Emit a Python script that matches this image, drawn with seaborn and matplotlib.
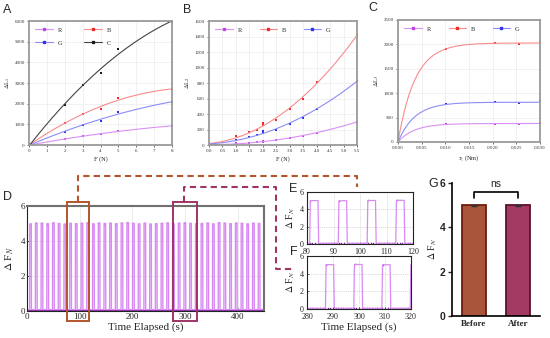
import numpy as np
import pandas as pd
import matplotlib
matplotlib.use("Agg")
import matplotlib.pyplot as plt
import seaborn as sns
from matplotlib.patches import Rectangle
from matplotlib.lines import Line2D

sns.set_theme(style="white")
plt.rcParams['font.family'] = ['Liberation Serif', 'DejaVu Serif']
plt.rcParams['mathtext.fontset'] = 'stix'

# ---------------- data ----------------
a_force = [0, 2, 3, 4, 5, 8]
a_R = [0, 280, 420, 520, 700, 920]
a_B = [0, 1060, 1520, 1740, 2270, 2700]
a_G = [0, 640, 980, 1180, 1580, 2080]
a_C = [0, 1920, 2900, 3480, 4640, 5960]

b_force = [0, 1.0, 1.5, 1.8, 2.0, 2.0, 2.5, 3.0, 3.5, 4.0, 5.5]
b_R = [0, 20, 30, 35, 50, 45, 60, 85, 120, 160, 300]
b_B = [0, 110, 170, 200, 280, 260, 320, 460, 600, 810, 1420]
b_G = [0, 65, 100, 130, 180, 150, 200, 270, 345, 470, 830]

c_torque = [0, 0.0102, 0.0205, 0.0255, 0.0300]
c_R = [0, 360, 375, 375, 385]
c_B = [0, 1910, 2030, 2010, 2040]
c_G = [0, 770, 810, 800, 830]

d_onsets = [5.0, 15.9, 26.7, 37.6, 48.4, 59.3, 70.1, 81.0, 91.8, 102.7, 113.5,
            124.4, 135.2, 146.1, 156.9, 167.8, 178.6, 189.5, 200.3, 211.2, 222.0,
            232.9, 243.7, 254.6, 265.4, 276.3, 287.1, 298.0, 308.8, 319.7, 330.5,
            341.4, 352.2, 363.1, 373.9, 384.8, 395.6, 406.5, 417.3, 428.2, 439.0]
d_heights = [4.98, 5.03, 5.02, 4.99, 5.04, 5.00, 4.97, 5.01, 4.99, 5.02, 5.04,
             4.98, 5.03, 5.00, 5.02, 4.99, 5.03, 5.05, 5.01, 4.98, 5.02, 4.97,
             4.99, 5.01, 5.03, 4.98, 5.02, 5.04, 5.01, 4.99, 5.00, 5.03, 4.98,
             5.05, 5.02, 4.99, 5.03, 5.01, 4.98, 5.02, 5.00]
d_width = 3.4
d_base = 0.08
d_end = 450

g_groups = ["Before", "After"]
g_means = [4.99, 4.99]
g_err = [0.03, 0.03]

W, H = 550, 338
fig = plt.figure(figsize=(5.5, 3.38), dpi=100)


def add_ax(l, r, t, b):
    return fig.add_axes([l / W, 1 - b / H, (r - l) / W, (b - t) / H])


col = {'R': '#c040e8', 'B': '#f02828', 'G': '#3030f0', 'C': '#1a1a1a'}
fitcol = {'R': '#d890f4', 'B': '#f88c8c', 'G': '#8c8cf8', 'C': '#444444'}


def style_top(ax):
    for s in ax.spines.values():
        s.set_color('#9a9a9a')
        s.set_linewidth(1.3)
    ax.tick_params(axis='both', which='both', length=1.5, width=0.5,
                   labelsize=3.6, pad=1.5, colors='#333333', direction='out',
                   bottom=True, left=True)
    ax.grid(True, color='#ececec', lw=0.5)
    ax.set_axisbelow(True)


def legend_handles(keys):
    return [Line2D([0], [0], color=fitcol[k], lw=0.8, marker='s', markersize=1.8,
                   markerfacecolor=col[k], markeredgecolor=col[k], label=k) for k in keys]


# ---------------- A ----------------
axA = add_ax(29, 172, 21, 145)
xx = np.linspace(0, 8, 200)
for k, ys in [('R', a_R), ('B', a_B), ('G', a_G), ('C', a_C)]:
    p = np.polyfit(a_force, ys, 2)
    sns.lineplot(x=xx, y=np.polyval(p, xx), ax=axA, color=fitcol[k], lw=0.8, legend=False)
    sns.scatterplot(x=a_force, y=ys, ax=axA, color=col[k], marker='s', s=4, linewidth=0, legend=False)
axA.set_xlim(0, 8)
axA.set_ylim(0, 6000)
axA.set_xticks(range(0, 9))
axA.set_yticks(range(0, 6001, 1000))
style_top(axA)
axA.set_xlabel('F (N)', fontsize=4.5, labelpad=2)
axA.set_ylabel(r'$\Delta$L$_1$', fontsize=4.5, labelpad=2)
axA.legend(handles=legend_handles(['R', 'G', 'B', 'C']), ncol=2, loc='upper left',
           frameon=False, fontsize=4.5, handlelength=2.8, columnspacing=3.5,
           labelspacing=1.2, borderaxespad=0.6, bbox_to_anchor=(0.0, 1.0))

# ---------------- B ----------------
axB = add_ax(209, 357, 21, 145)
xx = np.linspace(0, 5.5, 200)
for k, ys in [('R', b_R), ('B', b_B), ('G', b_G)]:
    p = np.polyfit(b_force, ys, 2)
    sns.lineplot(x=xx, y=np.polyval(p, xx), ax=axB, color=fitcol[k], lw=0.8, legend=False)
    sns.scatterplot(x=b_force, y=ys, ax=axB, color=col[k], marker='s', s=4, linewidth=0, legend=False)
axB.set_xlim(0, 5.5)
axB.set_ylim(0, 1600)
axB.set_xticks(np.arange(0, 5.51, 0.5))
axB.set_xticklabels([f'{v:.1f}' for v in np.arange(0, 5.51, 0.5)])
axB.set_yticks(range(0, 1601, 200))
style_top(axB)
axB.set_xlabel('F (N)', fontsize=4.5, labelpad=2)
axB.set_ylabel(r'$\Delta$L$_2$', fontsize=4.5, labelpad=2)
axB.legend(handles=legend_handles(['R', 'B', 'G']), ncol=3, loc='upper left',
           frameon=False, fontsize=4.5, handlelength=2.8, columnspacing=2.8,
           borderaxespad=0.6)

# ---------------- C ----------------
axC = add_ax(398, 540, 20, 142)
xx = np.linspace(0, 0.03, 300)
taus = np.linspace(0.0005, 0.01, 400)
cx = np.array(c_torque)
for k, ys in [('R', c_R), ('B', c_B), ('G', c_G)]:
    ys = np.array(ys, dtype=float)
    best = None
    for tau in taus:
        f = 1 - np.exp(-cx / tau)
        a = (f @ ys) / (f @ f)
        err = np.sum((a * f - ys) ** 2)
        if best is None or err < best[0]:
            best = (err, a, tau)
    _, a, tau = best
    sns.lineplot(x=xx, y=a * (1 - np.exp(-xx / tau)), ax=axC, color=fitcol[k], lw=0.8, legend=False)
    sns.scatterplot(x=c_torque, y=ys, ax=axC, color=col[k], marker='s', s=4, linewidth=0, legend=False)
axC.set_xlim(0, 0.03)
axC.set_ylim(0, 2500)
axC.set_xticks(np.arange(0, 0.0301, 0.005))
axC.set_xticklabels([f'{v:.3f}' for v in np.arange(0, 0.0301, 0.005)])
axC.set_yticks(range(0, 2501, 500))
style_top(axC)
axC.set_xlabel(r'$\tau_z$ (Nm)', fontsize=4.5, labelpad=2)
axC.set_ylabel(r'$\Delta$L$_3$', fontsize=4.5, labelpad=2)
axC.legend(handles=legend_handles(['R', 'B', 'G']), ncol=3, loc='upper left',
           frameon=False, fontsize=4.5, handlelength=2.8, columnspacing=2.8,
           borderaxespad=0.6)

# ---------------- pulse series ----------------
ts, vs = [0.0], [d_base]
for t0, h in zip(d_onsets, d_heights):
    ts += [t0, t0 + 0.25, t0 + d_width - 0.25, t0 + d_width]
    vs += [d_base, h, h, d_base]
ts.append(d_end)
vs.append(d_base)
pulse = pd.DataFrame({'t': ts, 'v': vs})
base_t = np.arange(0, d_end + 0.1, 1.0)
base_df = pd.DataFrame({'t': base_t, 'v': np.full_like(base_t, d_base)})
top_df = pd.DataFrame({'t': [t + 0.3 for t in d_onsets], 'v': d_heights})

line_c = '#d88af2'
mark_c = '#7a1f9a'


def draw_pulse(ax, ms, lw):
    sns.lineplot(data=pulse, x='t', y='v', ax=ax, estimator=None, sort=False,
                 color=line_c, lw=lw, legend=False)
    sns.scatterplot(data=base_df, x='t', y='v', ax=ax, color=mark_c, s=ms, linewidth=0, legend=False)
    sns.scatterplot(data=top_df, x='t', y='v', ax=ax, color=mark_c, s=ms, linewidth=0, legend=False)


# ---------------- D ----------------
axD = add_ax(27, 264, 206, 311)
draw_pulse(axD, 0.8, 1.0)
axD.set_xlim(0, 450)
axD.set_ylim(0, 6)
axD.set_xticks([0, 100, 200, 300, 400])
axD.set_yticks([0, 2, 4, 6])
axD.grid(True, color='#e4e4e4', lw=0.5)
for s in ['top', 'right']:
    axD.spines[s].set_color('#707070')
    axD.spines[s].set_linewidth(1.5)
for s in ['left', 'bottom']:
    axD.spines[s].set_color('#222222')
    axD.spines[s].set_linewidth(0.8)
axD.tick_params(labelsize=6.5, length=2, width=0.6, pad=1.5, direction='in',
                bottom=True, left=True)
axD.set_xlabel('Time Elapsed (s)', fontsize=8, labelpad=1)
axD.set_ylabel(r'$\Delta$ F$_N$', fontsize=8, labelpad=3)

brown = '#b4552e'
plum = '#9e3566'
axD.add_patch(Rectangle((76.8, -0.57), 41.7, 6.8, fill=False, ec=brown, lw=1.4, clip_on=False, zorder=5))
axD.add_patch(Rectangle((277.6, -0.57), 45.7, 6.8, fill=False, ec=plum, lw=1.4, clip_on=False, zorder=5))


def fig_line(pts, color):
    xs = [p[0] / W for p in pts]
    ys = [1 - p[1] / H for p in pts]
    fig.add_artist(Line2D(xs, ys, transform=fig.transFigure, color=color, lw=1.5,
                          linestyle=(0, (3, 2))))


fig_line([(78, 202), (78, 176), (357, 176), (357, 187)], brown)
fig_line([(184, 202), (184, 187), (276, 187), (276, 269), (295, 269)], plum)

# ---------------- E / F ----------------
for (l, r, t, b), xl, xticks, lab in [((307, 413, 192, 244), (80, 120), [80, 90, 100, 110, 120], False),
                                       ((307, 411, 256, 309), (280, 320), [280, 290, 300, 310, 320], True)]:
    ax = add_ax(l, r, t, b)
    draw_pulse(ax, 1.2, 0.9)
    ax.set_xlim(*xl)
    ax.set_ylim(0, 6)
    ax.set_xticks(xticks)
    ax.set_yticks([0, 2, 4, 6])
    ax.grid(True, color='#b8b8b8', lw=0.5, linestyle=':')
    for s in ax.spines.values():
        s.set_color('#222222')
        s.set_linewidth(0.8)
    ax.tick_params(labelsize=5.8, length=1.5, width=0.5, direction='in',
                   bottom=True, left=True)
    ax.tick_params(axis='x', pad=3.2)
    ax.tick_params(axis='y', pad=2.5)
    ax.set_ylabel(r'$\Delta$ F$_N$', fontsize=7, labelpad=2)
    if lab:
        ax.set_xlabel('Time Elapsed (s)', fontsize=8, labelpad=0.5)
    else:
        ax.set_xlabel('')

# ---------------- G ----------------
axG = add_ax(452, 540, 183, 316)
gdf = pd.DataFrame({'group': g_groups, 'mean': g_means})
sns.barplot(data=gdf, x='group', y='mean', hue='group', ax=axG,
            palette=['#a9553a', '#a33a62'], width=0.55, legend=False, saturation=1)
for patch, ec in zip(axG.patches, ['#6a1f0c', '#5a1030']):
    patch.set_edgecolor(ec)
    patch.set_linewidth(1.3)
axG.errorbar([0, 1], g_means, yerr=g_err, fmt='none', ecolor='#333333', elinewidth=0.8, capsize=2)
axG.set_ylim(0, 6)
axG.set_xlim(-0.5, 1.5)
axG.set_yticks([0, 2, 4, 6])
axG.set_yticklabels(['0', '2', '4', '6'], fontfamily='Liberation Sans', fontweight='bold', fontsize=7.5)
axG.set_xticks([0, 1])
axG.set_xticklabels(g_groups, fontweight='bold', fontsize=6.5)
axG.set_xlabel('')
axG.set_ylabel(r'$\Delta$ F$_N$', fontsize=7, labelpad=1)
sns.despine(ax=axG)
for s in ['left', 'bottom']:
    axG.spines[s].set_color('black')
    axG.spines[s].set_linewidth(1.2)
axG.tick_params(axis='y', length=3, width=1, pad=1.5, left=True, direction='out')
axG.tick_params(axis='x', length=0, pad=3)
axG.plot([0, 0, 1, 1], [5.32, 5.6, 5.6, 5.32], color='black', lw=1.2, clip_on=False)
axG.text(0.5, 5.72, 'ns', ha='center', va='bottom', fontsize=7.5, fontfamily='Liberation Sans')

# ---------------- panel letters ----------------
for txt, x, y in [('A', 3, 4), ('B', 183, 4), ('C', 368, 2), ('D', 3, 191),
                  ('E', 289, 183), ('F', 290, 246), ('G', 428, 178)]:
    fig.text(x / W, 1 - y / H, txt, fontsize=9, fontfamily='Liberation Sans', va='top', ha='left')

fig.savefig('out.png', dpi=100)
